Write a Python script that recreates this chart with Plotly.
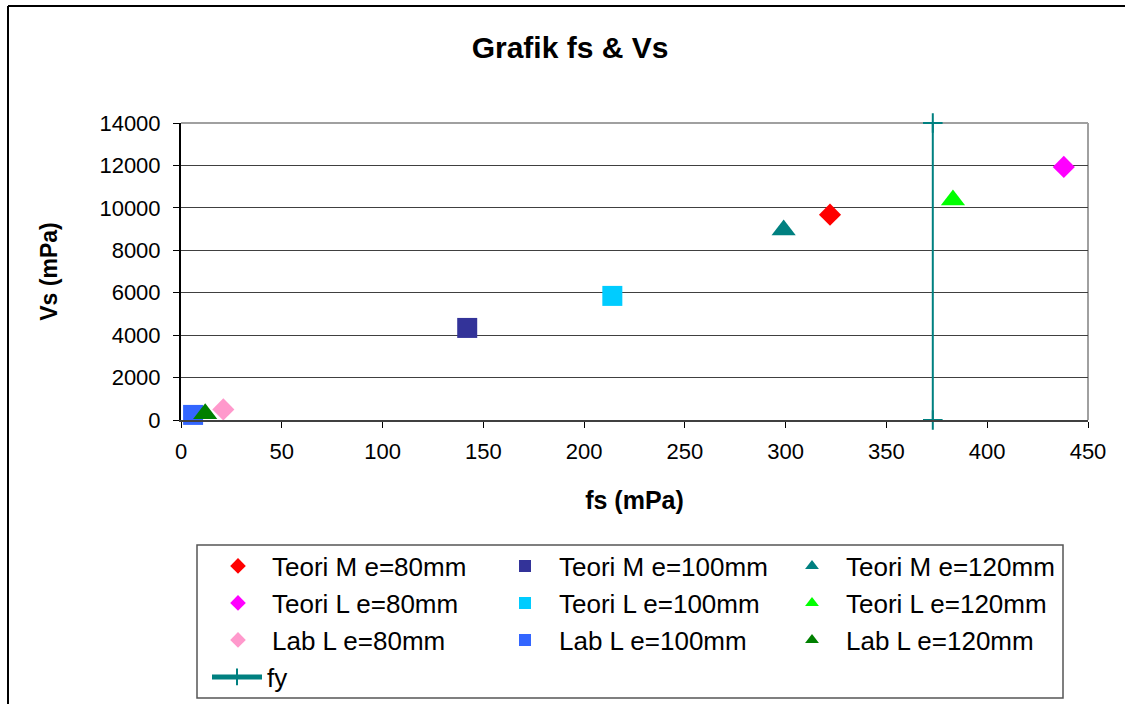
import plotly.graph_objects as go

# ---- data ----
series_names = [
    "Teori M e=80mm", "Teori M e=100mm", "Teori M e=120mm",
    "Teori L e=80mm", "Teori L e=100mm", "Teori L e=120mm",
    "Lab L e=80mm", "Lab L e=100mm", "Lab L e=120mm",
]
fs_values = [322, 142, 299, 438, 214, 383, 21, 6, 12]          # fs (mPa)
vs_values = [9680, 4340, 8960, 11930, 5850, 10370, 500, 240, 300]  # Vs (mPa)
series_colors = [
    "#FF0000", "#333399", "#008080",
    "#FF00FF", "#00CCFF", "#00FF00",
    "#FF99CC", "#3366FF", "#008000",
]
series_symbols = [
    "diamond", "square", "triangle-up",
    "diamond", "square", "triangle-up",
    "diamond", "square", "triangle-up",
]
fy_x = [373, 373]
fy_y = [0, 14000]

x_ticks = [0, 50, 100, 150, 200, 250, 300, 350, 400, 450]
y_ticks = [0, 2000, 4000, 6000, 8000, 10000, 12000, 14000]
x_tick_text = [str(v) for v in x_ticks]
y_tick_text = [str(v) for v in y_ticks]

FONT = "Liberation Sans, Arial, sans-serif"

marker_sizes = {"diamond": 17, "square": 20, "triangle-up": 21}
legend_rows = ["legend", "legend2", "legend3"]

fig = go.Figure()
for i, name in enumerate(series_names):
    sym = series_symbols[i]
    fig.add_trace(go.Scatter(
        x=[fs_values[i]], y=[vs_values[i]], mode="markers", name=name,
        marker=dict(symbol=sym, size=marker_sizes[sym], color=series_colors[i],
                    line=dict(width=0)),
        legend=legend_rows[i // 3], cliponaxis=False,
    ))

fig.add_trace(go.Scatter(
    x=fy_x, y=fy_y, mode="lines+markers", name="fy",
    line=dict(color="#008080", width=2),
    marker=dict(symbol="cross-thin", size=14, line=dict(color="#008080", width=2)),
    legend="legend4", cliponaxis=False,
))

L, R, T, B = 181, 37, 123, 284
W, H = 1125, 704
pw, ph = W - L - R, H - T - B

def px_x(p):
    return (p - L) / pw

def px_y(p):
    return (H - B - p) / ph

def cx(p):
    return p / W

def cy(p):
    return 1 - p / H

row_y = [566, 603, 640, 677]
leg_common = dict(orientation="h", xanchor="left", yanchor="middle",
                  xref="container", yref="container",
                  bgcolor="rgba(0,0,0,0)", borderwidth=0,
                  font=dict(family=FONT, size=26, color="black"),
                  itemsizing="constant", entrywidthmode="pixels")

layout_legends = {}
for k, key in enumerate(["legend", "legend2", "legend3"]):
    layout_legends[key] = dict(leg_common, x=cx(204), y=cy(row_y[k]),
                               itemwidth=58, entrywidth=214)
layout_legends["legend4"] = dict(leg_common, x=cx(207), y=cy(row_y[3]),
                                 itemwidth=50, entrywidth=214)

shapes = [
    # plot-area border (top and right) in grey
    dict(type="line", xref="paper", yref="paper", x0=0, x1=1, y0=1, y1=1,
         line=dict(color="#A0A0A0", width=2), layer="below"),
    dict(type="line", xref="paper", yref="paper", x0=1, x1=1, y0=0, y1=1,
         line=dict(color="#A0A0A0", width=2), layer="below"),
    # legend box
    dict(type="rect", xref="paper", yref="paper",
         x0=px_x(197), x1=px_x(1063), y0=px_y(698), y1=px_y(545),
         line=dict(color="#555555", width=1.5), layer="below"),
    # outer chart border (top and left)
    dict(type="line", xref="paper", yref="paper",
         x0=px_x(8), x1=px_x(1130), y0=px_y(6), y1=px_y(6),
         line=dict(color="black", width=2)),
    dict(type="line", xref="paper", yref="paper",
         x0=px_x(8), x1=px_x(8), y0=px_y(6), y1=px_y(710),
         line=dict(color="black", width=2)),
]

fig.update_layout(
    width=W, height=H,
    margin=dict(l=L, r=R, t=T, b=B, pad=0, autoexpand=False),
    paper_bgcolor="white", plot_bgcolor="white",
    font=dict(family=FONT, size=22, color="black"),
    title=dict(text="<b>Grafik fs & Vs</b>", xref="container", yref="container",
               x=570 / W, y=1 - 47 / H, xanchor="center", yanchor="middle",
               font=dict(family=FONT, size=30, color="black")),
    xaxis=dict(range=[0, 450], tickvals=x_ticks, ticktext=x_tick_text,
               showgrid=False, zeroline=False,
               showline=True, linecolor="#404040", linewidth=2,
               ticks="outside", ticklen=6, tickcolor="black", tickwidth=1,
               ticklabelstandoff=5,
               tickfont=dict(family=FONT, size=22, color="black"),
               title=dict(text="<b>fs (mPa)</b>", standoff=28,
                          font=dict(family=FONT, size=25, color="black"))),
    yaxis=dict(range=[0, 14000], tickvals=y_ticks, ticktext=y_tick_text,
               showgrid=True,
               gridcolor="#404040", gridwidth=1, zeroline=False,
               showline=True, linecolor="black", linewidth=2,
               ticks="outside", ticklen=6, tickcolor="black", tickwidth=1,
               ticklabelstandoff=8,
               tickfont=dict(family=FONT, size=22, color="black"),
               title=dict(text="<b>Vs (mPa)</b>", standoff=35,
                          font=dict(family=FONT, size=23, color="black"))),
    shapes=shapes,
    showlegend=True,
    **layout_legends,
)

fig.write_html("out.html")
